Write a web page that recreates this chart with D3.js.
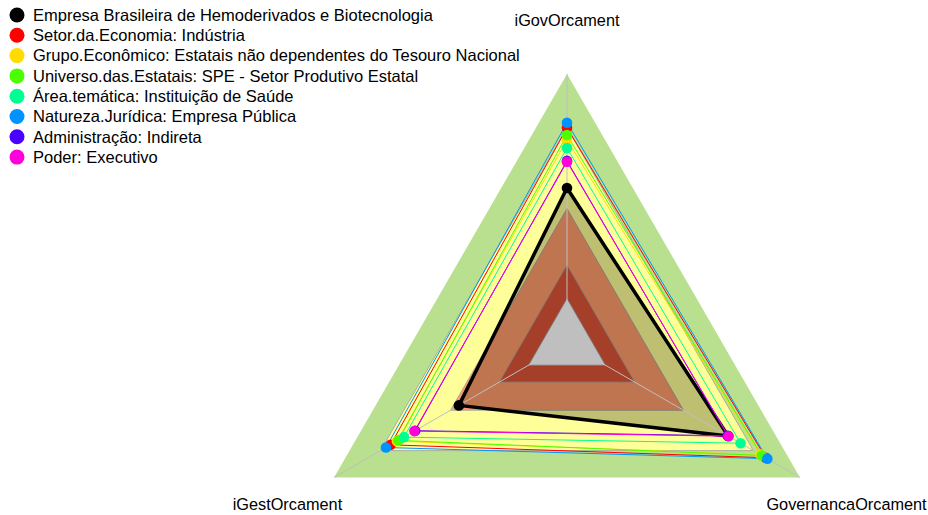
<!DOCTYPE html>
<html>
<head>
<meta charset="utf-8">
<script src="https://cdn.jsdelivr.net/npm/d3@7"></script>
<style>
  body { margin: 0; background: #fff; }
  text { font-family: Arial, "Liberation Sans", sans-serif; }
</style>
</head>
<body>
<div id="radar"></div>
<script>
var svgWidth = 928;
var svgHeight = 515;

// axes, clockwise from the top
var axes = ["iGovOrcament", "GovernancaOrcament", "iGestOrcament"];

// background bands (outer edge of each band, 0..1) and their fills
var bandLevels = [1.0, 0.8, 0.5, 0.29, 0.165];
var bandColors = ["#b8e08e", "#ffff99", "#ff9c6b", "#dd5539", "#ffffff"];

// series, in legend order
var seriesNames = [
  "Empresa Brasileira de Hemoderivados e Biotecnologia",
  "Setor.da.Economia: Indústria",
  "Grupo.Econômico: Estatais não dependentes do Tesouro Nacional",
  "Universo.das.Estatais: SPE - Setor Produtivo Estatal",
  "Área.temática: Instituição de Saúde",
  "Natureza.Jurídica: Empresa Pública",
  "Administração: Indireta",
  "Poder: Executivo"
];
var seriesColors = ["#000000", "#FF0000", "#FFDB00", "#49FF00", "#00FF92", "#0092FF", "#4900FF", "#FF00DB"];

// values: [iGovOrcament, GovernancaOrcament, iGestOrcament]
var seriesValues = [
  [0.576, 0.692, 0.464],
  [0.800, 0.853, 0.757],
  [0.755, 0.830, 0.730],
  [0.773, 0.836, 0.724],
  [0.725, 0.745, 0.700],
  [0.819, 0.860, 0.777],
  [0.677, 0.690, 0.652],
  [0.674, 0.693, 0.655]
];

var cx = 567, cy = 343, R = 269;

var svg = d3.select("#radar")
  .append("svg")
  .attr("width", svgWidth)
  .attr("height", svgHeight);

var rScale = d3.scaleLinear().domain([0, 1]).range([0, R]);

function angle(i) {
  return -Math.PI / 2 + i * 2 * Math.PI / axes.length;
}

function pt(i, v) {
  return [cx + rScale(v) * Math.cos(angle(i)), cy + rScale(v) * Math.sin(angle(i))];
}

var line = d3.line().curve(d3.curveLinearClosed);

function poly(vals) {
  return line(vals.map((v, i) => pt(i, v)));
}

var chartGroup = svg.append("g");

// bands, outer first
chartGroup.selectAll(".band")
  .data(bandLevels)
  .enter()
  .append("path")
  .attr("class", "band")
  .attr("d", d => poly(axes.map(() => d)))
  .attr("fill", (d, i) => bandColors[i])
  .attr("stroke", (d, i) => i === 0 ? "none" : "#a0a0a0")
  .attr("stroke-width", 0.8);

// the company polygon is shaded
chartGroup.append("path")
  .attr("d", poly(seriesValues[0]))
  .attr("fill", "rgba(0,0,0,0.25)")
  .attr("stroke", "none");

// radii
chartGroup.selectAll(".radius")
  .data(axes)
  .enter()
  .append("line")
  .attr("x1", cx)
  .attr("y1", cy)
  .attr("x2", (d, i) => pt(i, 1)[0])
  .attr("y2", (d, i) => pt(i, 1)[1])
  .attr("stroke", "#bfbfbf")
  .attr("stroke-width", 1);

// series lines
chartGroup.selectAll(".series")
  .data(seriesValues)
  .enter()
  .append("path")
  .attr("class", "series")
  .attr("d", d => poly(d))
  .attr("fill", "none")
  .attr("stroke", (d, i) => seriesColors[i])
  .attr("stroke-width", (d, i) => i === 0 ? 3.5 : 1);

// series dots
seriesValues.forEach(function(vals, s) {
  chartGroup.selectAll(".dot" + s)
    .data(vals)
    .enter()
    .append("circle")
    .attr("cx", (d, i) => pt(i, d)[0])
    .attr("cy", (d, i) => pt(i, d)[1])
    .attr("r", 5.3)
    .attr("fill", seriesColors[s]);
});

// axis labels
chartGroup.selectAll(".axisLabel")
  .data(axes)
  .enter()
  .append("text")
  .attr("x", (d, i) => pt(i, 1.2)[0])
  .attr("y", (d, i) => pt(i, 1.2)[1])
  .attr("dy", "0.35em")
  .attr("text-anchor", "middle")
  .attr("font-size", "16.3px")
  .attr("fill", "#000")
  .text(d => d);

// legend
var legend = svg.append("g")
  .attr("transform", "translate(17, 15)");

var rows = legend.selectAll(".row")
  .data(seriesNames)
  .enter()
  .append("g")
  .attr("transform", (d, i) => `translate(0, ${i * 20.3})`);

rows.append("circle")
  .attr("r", 7.5)
  .attr("fill", (d, i) => seriesColors[i]);

rows.append("text")
  .attr("x", 16)
  .attr("dy", "0.35em")
  .attr("font-size", "16.5px")
  .attr("fill", "#000")
  .text(d => d);
</script>
</body>
</html>
